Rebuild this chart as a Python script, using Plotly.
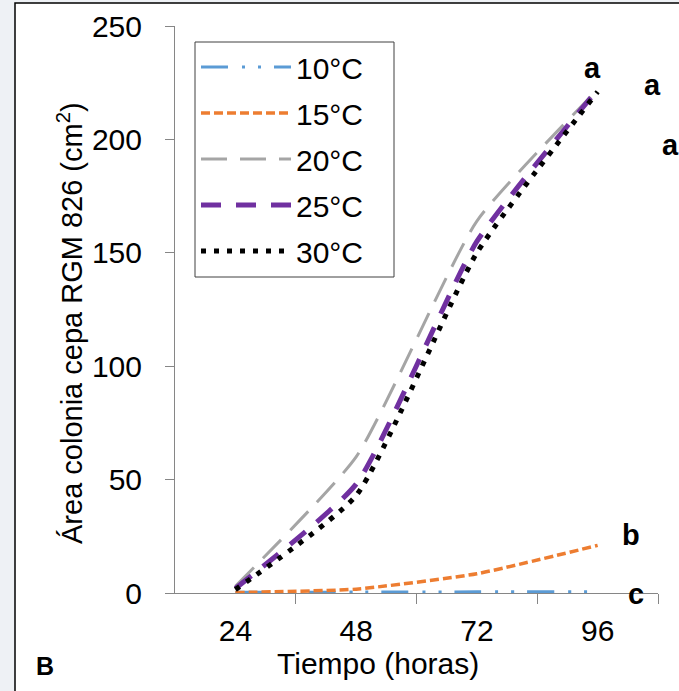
import plotly.graph_objects as go

# ---- data ----
hours = [24, 48, 72, 96]
hour_labels = ["24", "48", "72", "96"]
series_names = ["10°C", "15°C", "20°C", "25°C", "30°C"]
t10 = [0.3, 0.4, 0.5, 0.6]
t15 = [0.2, 1.7, 8.5, 21]
t20 = [3, 60, 164, 222]
t25 = [2, 48, 155, 222]
t30 = [1.5, 43, 150, 221]
y_ticks = [0, 50, 100, 150, 200, 250]
boundary_ticks = [36, 60, 84, 108]
letters = ["a", "a", "a", "b", "c"]
# letter positions in picture pixels (label placement only)
letter_px = [(592, 68), (652, 85), (670, 145), (631, 535), (636, 594)]

# ---- styles ----
colors = ["#5B9BD5", "#ED7D31", "#A5A5A5", "#7030A0", "#000000"]
dashes = ["27px,14px,3px,13px,3px,13px", "9px,4px", "26px,13px", "20px,15px", "5px,8px"]
widths = [3, 3.5, 3, 5, 5]
series = [t10, t15, t20, t25, t30]

FONT = "Liberation Sans, Arial, sans-serif"
AX = "#868686"

W, H = 679, 691
L, R, T, B = 175, 21, 26, 98
pw, ph = W - L - R, H - T - B


def px(x):
    return (x - L) / pw


def py(y):
    return (H - B - y) / ph


fig = go.Figure()
for i, (name, vals) in enumerate(zip(series_names, series)):
    fig.add_trace(go.Scatter(
        x=hours, y=vals, name=name, mode="lines",
        line=dict(color=colors[i], dash=dashes[i], width=widths[i], shape="spline", smoothing=0.5),
        legendgroup=f"g{i}",
    ))

for txt, (lx, ly) in zip(letters, letter_px):
    fig.add_annotation(x=px(lx), y=py(ly), xref="paper", yref="paper", text=txt, showarrow=False,
                       font=dict(family=FONT, size=29, color="black", weight="bold"),
                       xanchor="center", yanchor="middle")

fig.add_annotation(x=px(378), y=py(663), xref="paper", yref="paper", text="Tiempo (horas)",
                   showarrow=False, font=dict(family=FONT, size=30, color="black"),
                   xanchor="center", yanchor="middle")
fig.add_annotation(x=px(70), y=py(323), xref="paper", yref="paper",
                   text="Área colonia cepa RGM 826 (cm<sup>2</sup>)", textangle=-90,
                   showarrow=False, font=dict(family=FONT, size=29, color="black"),
                   xanchor="center", yanchor="middle")
fig.add_annotation(x=px(45), y=py(666), xref="paper", yref="paper", text="B",
                   showarrow=False, font=dict(family=FONT, size=25, color="black", weight="bold"),
                   xanchor="center", yanchor="middle")

# outer panel frame
fig.add_shape(type="rect", xref="paper", yref="paper",
              x0=px(15), x1=px(720), y0=py(720), y1=py(3),
              fillcolor="white", line=dict(color="black", width=1.5), layer="below")
# legend box
fig.add_shape(type="rect", xref="paper", yref="paper",
              x0=px(195), x1=px(394), y0=py(277), y1=py(42),
              fillcolor="white", line=dict(color="#404040", width=1), layer="below")

fig.update_layout(
    width=W, height=H,
    margin=dict(l=L, r=R, t=T, b=B, autoexpand=False),
    paper_bgcolor="#eef1f5", plot_bgcolor="rgba(0,0,0,0)",
    font=dict(family=FONT, size=30, color="black"),
    showlegend=True,
    legend=dict(
        x=px(196), y=py(41), xanchor="left", yanchor="top",
        bgcolor="rgba(0,0,0,0)", borderwidth=0,
        font=dict(family=FONT, size=30, color="black"),
        itemwidth=90, tracegroupgap=4,
    ),
    xaxis=dict(
        range=[12, 108], tickmode="array", tickvals=hours, ticktext=hour_labels,
        ticks="", showline=True, linecolor=AX, linewidth=1, showgrid=False, zeroline=False,
        ticklabelstandoff=11, automargin=False,
        minor=dict(tickmode="array", tickvals=boundary_ticks, ticks="outside", ticklen=10,
                   tickcolor=AX, tickwidth=1, showgrid=False),
    ),
    yaxis=dict(
        range=[0, 250], tickmode="array", tickvals=y_ticks,
        ticks="outside", ticklen=9, tickcolor=AX, showline=True, linecolor=AX, linewidth=1,
        showgrid=False, zeroline=False, ticklabelstandoff=17, automargin=False,
    ),
)

fig.write_html("out.html", config={"displayModeBar": False},
               post_script="document.body.style.margin='0';")
